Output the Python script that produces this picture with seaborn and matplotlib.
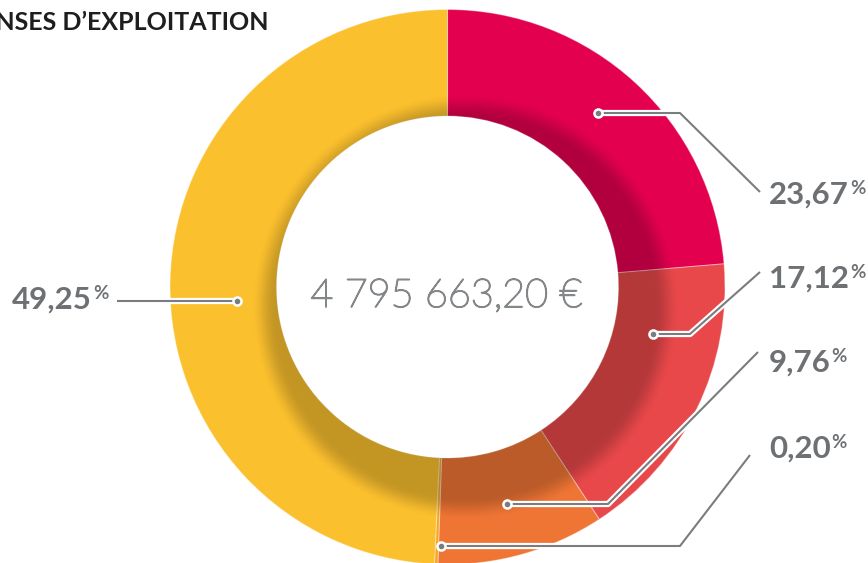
import numpy as np
import matplotlib
matplotlib.use("Agg")
import matplotlib.pyplot as plt
import matplotlib.patheffects as pe
import seaborn as sns

# ---- data ----
labels = ["23,67", "17,12", "9,76", "0,20", "49,25"]
values = [23.67, 17.12, 9.76, 0.20, 49.25]
colors = ["#E3004F", "#E8484A", "#EF7535", "#F7A823", "#FBC02E"]
title = "DÉPENSES D’EXPLOITATION"
total_label = "4 795 663,20 €"

sns.set_theme(style="white")
plt.rcParams["font.family"] = ["Lato", "DejaVu Sans"]

W, H = 868, 563
fig = plt.figure(figsize=(W / 100, H / 100), dpi=100)
ax = fig.add_axes([0, 0, 1, 1])

def Y(p):
    return H - p

cx, cy = 447.5, Y(287)
r_out, r_in = 277.5, 171.0

ax.pie(values, colors=colors, startangle=90, counterclock=False,
       radius=r_out, center=(cx, cy),
       wedgeprops=dict(width=r_out - r_in, edgecolor=(1, 1, 1, 0.35), linewidth=0.8))

# inner shadow (offset soft disc inside ring)
xs = np.arange(W) + 0.5
ys = np.arange(H) + 0.5
X, Yg = np.meshgrid(xs, ys)
r = np.hypot(X - cx, Yg - cy)
scx, scy = cx + 18, cy - 20
ds = np.hypot(X - scx, Yg - scy)
Rs = r_in + 31
t = np.clip((Rs + 12 - ds) / 24, 0, 1)
t = t * t * (3 - 2 * t)
ring = np.clip(r - r_in + 0.5, 0, 1) * np.clip(r_out - r + 0.5, 0, 1)
alpha = 0.22 * t * ring
img = np.zeros((H, W, 4))
img[..., 3] = alpha
ax.imshow(img, extent=(0, W, 0, H), origin="lower", interpolation="bilinear", zorder=3)

ax.set_xlim(0, W)
ax.set_ylim(0, H)
ax.set_aspect("equal")
ax.axis("off")

line_col = "#7a7d80"
txt_col = "#6e7174"
leaders = [
    [(598, 113), (680, 113), (760, 192)],
    [(653, 334), (690, 334), (760, 272)],
    [(507, 504), (608, 504), (758, 352)],
    [(441, 546), (680, 546), (750, 455)],
    [(237, 301), (117, 301)],
]
for pts in leaders:
    px = [p[0] for p in pts]
    py = [Y(p[1]) for p in pts]
    ax.plot(px, py, color=line_col, lw=1.5, zorder=5, solid_capstyle="butt",
            path_effects=[pe.Stroke(linewidth=4.5, foreground="white"), pe.Normal()])
    ax.scatter([px[0]], [py[0]], s=34, color=line_col, edgecolor="white",
               linewidth=1.8, zorder=6)

# labels
label_pos = [(769, 204), (769, 288), (769, 372), (769, 458), (12, 309)]
num_texts = []
for lab, (lx, ly) in zip(labels, label_pos):
    t_ = ax.text(lx, Y(ly), lab, fontsize=22.5, fontweight="bold", color=txt_col,
                 ha="left", va="baseline", zorder=7)
    num_texts.append((t_, ly))

fig.canvas.draw()
renderer = fig.canvas.get_renderer()
for t_, ly in num_texts:
    bb = t_.get_window_extent(renderer)
    ax.text(bb.x1 + 1, Y(ly - 10), "%", fontsize=13.5, fontweight="bold",
            color=txt_col, ha="left", va="baseline", zorder=7)

ax.text(268, Y(30), title, fontsize=18, fontweight="bold", color="#1e1e1e",
        ha="right", va="baseline")

center_col = "#84878a"
ax.text(446.5, Y(307), total_label, fontsize=28.5, fontweight="light",
        color=center_col, ha="center", va="baseline", zorder=7,
        path_effects=[pe.withStroke(linewidth=1.1, foreground=center_col)])

fig.savefig("out.png", dpi=100)
